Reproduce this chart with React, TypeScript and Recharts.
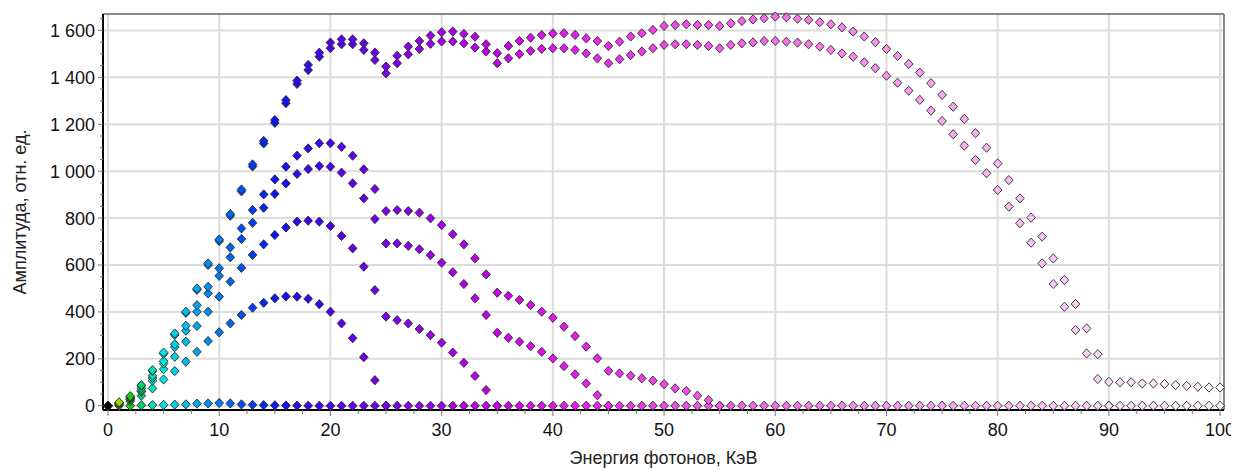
import { ScatterChart, Scatter, XAxis, YAxis, CartesianGrid, ReferenceLine } from 'recharts';

// photon energy, keV (one point per keV)
const ENERGY = [
  0, 1, 2, 3, 4, 5, 6, 7, 8, 9, 10, 11, 12, 13, 14, 15, 16, 17, 18, 19,
  20, 21, 22, 23, 24, 25, 26, 27, 28, 29, 30, 31, 32, 33, 34, 35, 36, 37, 38, 39,
  40, 41, 42, 43, 44, 45, 46, 47, 48, 49, 50, 51, 52, 53, 54, 55, 56, 57, 58, 59,
  60, 61, 62, 63, 64, 65, 66, 67, 68, 69, 70, 71, 72, 73, 74, 75, 76, 77, 78, 79,
  80, 81, 82, 83, 84, 85, 86, 87, 88, 89, 90, 91, 92, 93, 94, 95, 96, 97, 98, 99, 100,
];

// amplitude per series, starting at 0 keV
const SPEC_A = [
  0, 15, 41, 88, 152, 227, 308, 401, 500, 607,
  709, 817, 922, 1029, 1129, 1218, 1303, 1386, 1453, 1505,
  1548, 1562, 1562, 1545, 1505, 1446, 1492, 1531, 1555, 1578,
  1592, 1595, 1585, 1573, 1541, 1503, 1534, 1555, 1569, 1580,
  1587, 1588, 1581, 1566, 1555, 1534, 1552, 1574, 1588, 1602,
  1619, 1623, 1626, 1623, 1623, 1619, 1630, 1640, 1647, 1652,
  1659, 1656, 1650, 1645, 1635, 1626, 1613, 1595, 1574, 1550,
  1521, 1491, 1457, 1420, 1375, 1325, 1275, 1223, 1162, 1100,
  1033, 962, 884, 802, 721, 628, 536, 434, 330, 220,
  102, 100, 100, 95, 95, 93, 88, 85, 81, 78, 78,
];
const SPEC_B = [
  0, 12, 38, 85, 148, 222, 302, 396, 494, 600,
  702, 810, 914, 1020, 1118, 1206, 1290, 1372, 1431, 1488,
  1524, 1541, 1541, 1517, 1474, 1417, 1460, 1498, 1521, 1543,
  1553, 1553, 1545, 1527, 1510, 1460, 1481, 1499, 1513, 1521,
  1524, 1524, 1517, 1502, 1481, 1460, 1477, 1495, 1510, 1524,
  1538, 1541, 1541, 1538, 1534, 1524, 1538, 1545, 1549, 1555,
  1555, 1552, 1548, 1541, 1531, 1517, 1502, 1488, 1464, 1439,
  1407, 1377, 1343, 1304, 1258, 1214, 1157, 1109, 1048, 991,
  920, 849, 778, 695, 607, 519, 422, 323, 223, 114,
  0,
];
const SPEC_C = [
  0, 12, 35, 74, 128, 190, 262, 341, 429, 507,
  586, 675, 756, 834, 901, 965, 1019, 1066, 1097, 1119,
  1119, 1104, 1066, 1008, 924, 830, 834, 830, 823, 799,
  770, 731, 688, 628, 560, 482, 469, 451, 429, 401,
  375, 337, 297, 252, 202, 149, 138, 128, 117, 107,
  92, 74, 63, 43, 24, 0,
];
const SPEC_D = [
  0, 10, 32, 65, 118, 180, 250, 320, 401, 479,
  554, 633, 711, 780, 844, 903, 948, 988, 1009, 1022,
  1019, 994, 948, 884, 796, 692, 692, 682, 667, 642,
  610, 569, 519, 458, 387, 311, 290, 273, 254, 230,
  202, 169, 134, 95, 45, 0,
];
const SPEC_E = [
  0, 8, 27, 60, 107, 156, 209, 273, 340, 401,
  465, 529, 588, 643, 688, 728, 760, 785, 789, 785,
  766, 724, 671, 593, 493, 380, 365, 351, 327, 301,
  269, 227, 183, 127, 67, 0,
];
const SPEC_F = [
  0, 6, 20, 43, 74, 112, 148, 188, 230, 276,
  313, 351, 387, 418, 439, 458, 466, 465, 456, 433,
  401, 351, 288, 207, 109, 0,
];
const SPEC_G = [
  0, 0, 0, 2, 3, 4, 5, 6, 9, 10,
  12, 10, 6, 4, 3, 2, 1, 1, 0, 0,
  0, 0, 0, 0, 0, 0, 0, 0, 0, 0,
  0, 0, 0, 0, 0, 0, 0, 0, 0, 0,
  0, 0, 0, 0, 0, 0, 0, 0, 0, 0,
  0, 0, 0, 0, 0, 0, 0, 0, 0, 0,
  0, 0, 0, 0, 0, 0, 0, 0, 0, 0,
  0, 0, 0, 0, 0, 0, 0, 0, 0, 0,
  0, 0, 0, 0, 0, 0, 0, 0, 0, 0,
  0, 0, 0, 0, 0, 0, 0, 0, 0, 0, 0,
];

const X_TICKS = [
  0, 2.5, 5, 7.5, 10, 12.5, 15, 17.5, 20, 22.5, 25, 27.5, 30, 32.5, 35, 37.5, 40, 42.5, 45, 47.5,
  50, 52.5, 55, 57.5, 60, 62.5, 65, 67.5, 70, 72.5, 75, 77.5, 80, 82.5, 85, 87.5, 90, 92.5, 95, 97.5, 100,
];
const Y_TICKS = [
  0, 50, 100, 150, 200, 250, 300, 350, 400, 450, 500, 550, 600, 650, 700, 750, 800, 850,
  900, 950, 1000, 1050, 1100, 1150, 1200, 1250, 1300, 1350, 1400, 1450, 1500, 1550, 1600, 1650,
];
const X_GRID = [0, 10, 20, 30, 40, 50, 60, 70, 80, 90, 100];
const Y_GRID = [0, 200, 400, 600, 800, 1000, 1200, 1400, 1600];

const FONT = '"Liberation Sans", Arial, sans-serif';

// colour of a marker by its energy
const STOPS: [number, number, number, number][] = [
  [0, 0, 0, 0],
  [1, 150, 220, 0],
  [2, 20, 210, 20],
  [3, 0, 210, 120],
  [4, 0, 225, 190],
  [5, 0, 230, 230],
  [7, 0, 190, 240],
  [10, 0, 120, 240],
  [13, 0, 60, 245],
  [15, 10, 20, 240],
  [20, 80, 0, 240],
  [25, 120, 0, 235],
  [30, 165, 0, 235],
  [35, 200, 0, 235],
  [40, 225, 20, 235],
  [50, 240, 70, 230],
  [60, 245, 110, 230],
  [70, 245, 150, 235],
  [80, 248, 185, 240],
  [90, 250, 215, 245],
  [100, 255, 250, 255],
];

function colorAt(k: number) {
  for (let i = 1; i < STOPS.length; i++) {
    const [k1, r1, g1, b1] = STOPS[i];
    if (k <= k1) {
      const [k0, r0, g0, b0] = STOPS[i - 1];
      const t = (k - k0) / (k1 - k0);
      const mix = (a: number, b: number) => Math.round(a + (b - a) * t);
      return `rgb(${mix(r0, r1)},${mix(g0, g1)},${mix(b0, b1)})`;
    }
  }
  return 'rgb(255,255,255)';
}

function fmt(v: number) {
  if (v < 1000) return String(v);
  return `${Math.floor(v / 1000)} ${String(v % 1000).padStart(3, '0')}`;
}

function toPoints(values: number[]) {
  return values.map((y, i) => ({ x: ENERGY[i], y }));
}

function Diamond(props: any) {
  const { cx, cy, payload } = props;
  if (cx == null || cy == null) return null;
  const w = 4.3;
  const h = 4.6;
  return (
    <path
      d={`M${cx},${cy - h}L${cx + w},${cy}L${cx},${cy + h}L${cx - w},${cy}Z`}
      fill={colorAt(payload.x)}
      stroke="#2a2a2a"
      strokeWidth={0.9}
    />
  );
}

function YTick({ x, y, payload }: any) {
  const v = payload.value;
  const edge = x + 8;
  const major = v % 200 === 0;
  return (
    <g>
      <line x1={edge - (major ? 5 : 3)} x2={edge} y1={y} y2={y} stroke="#777" />
      {major && (
        <text x={edge - 8} y={y} dy="0.36em" textAnchor="end" fontSize={18} fontFamily={FONT} fill="#111">
          {fmt(v)}
        </text>
      )}
    </g>
  );
}

function XTick({ x, y, payload }: any) {
  const v = payload.value;
  const edge = y - 8;
  const major = v % 10 === 0;
  return (
    <g>
      <line x1={x} x2={x} y1={edge} y2={edge + (major ? 6 : 4)} stroke="#777" />
      {major && (
        <text x={x} y={edge + 26} textAnchor="middle" fontSize={18} fontFamily={FONT} fill="#111">
          {v}
        </text>
      )}
    </g>
  );
}

const SERIES = [SPEC_G, SPEC_F, SPEC_E, SPEC_D, SPEC_C, SPEC_B, SPEC_A];

export default function App() {
  return (
    <ScatterChart width={1231} height={460} margin={{ top: 6, right: 15, bottom: 2, left: 0 }}>
      <CartesianGrid
        stroke="#dcdcdc"
        strokeWidth={2}
        horizontalValues={Y_GRID}
        verticalValues={X_GRID}
      />
      <XAxis
        type="number"
        dataKey="x"
        domain={[-0.45, 100.35]}
        ticks={X_TICKS}
        interval={0}
        height={56}
        tickSize={6}
        tickMargin={2}
        tickLine={false}
        tick={<XTick />}
        axisLine={{ stroke: '#000', strokeWidth: 2 }}
        label={{ value: 'Энергия фотонов, КэВ', position: 'insideBottom', offset: 2, fontSize: 18, fontFamily: FONT, fill: '#222' }}
      />
      <YAxis
        type="number"
        dataKey="y"
        domain={[-18, 1670]}
        ticks={Y_TICKS}
        interval={0}
        width={95}
        tickSize={6}
        tickMargin={2}
        tickLine={false}
        tick={<YTick />}
        axisLine={{ stroke: '#000', strokeWidth: 2 }}
        label={{ value: 'Амплитуда, отн. ед.', angle: -90, position: 'insideLeft', offset: 12, fontSize: 18, fontFamily: FONT, fill: '#222', style: { textAnchor: 'middle' } }}
      />
      <ReferenceLine y={1670} stroke="#888" strokeWidth={2} />
      <ReferenceLine x={100.35} stroke="#888" strokeWidth={2} />
      {SERIES.map((s, i) => (
        <Scatter key={i} data={toPoints(s)} shape={<Diamond />} isAnimationActive={false} />
      ))}
    </ScatterChart>
  );
}
